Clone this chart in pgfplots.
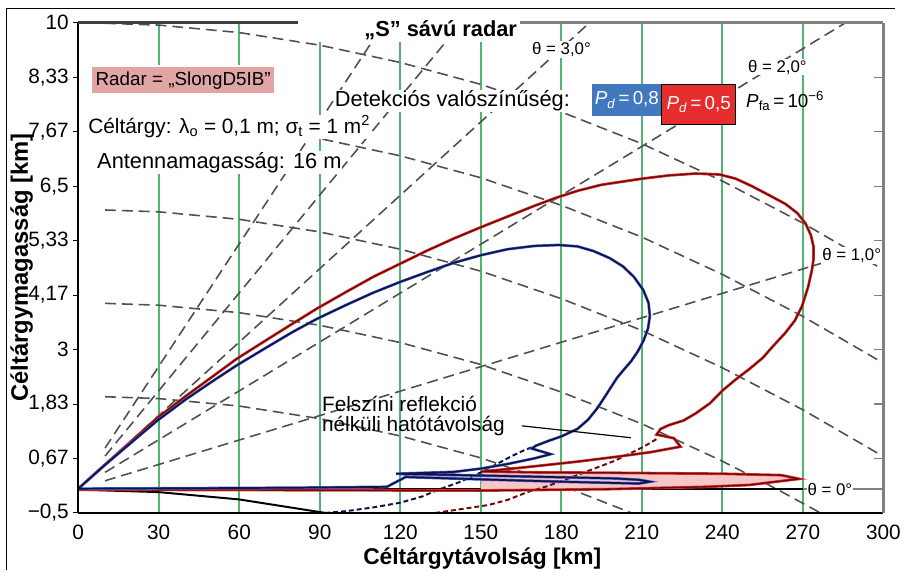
\documentclass[border=0pt]{standalone}
\usepackage{fontspec}
\setmainfont{Liberation Sans}
\usepackage{pgfplots}
\usepackage{pgfplotstable}
\pgfplotsset{compat=1.18}

\definecolor{grgreen}{RGB}{80,180,115}
\definecolor{dashgray}{RGB}{80,80,80}
\definecolor{navyline}{RGB}{15,20,70}
\definecolor{navyhalo}{RGB}{80,100,210}
\definecolor{redline}{RGB}{110,10,10}
\definecolor{redhalo}{RGB}{225,50,50}
\definecolor{boxpink}{RGB}{225,165,165}
\definecolor{boxblue}{RGB}{65,120,190}
\definecolor{boxred}{RGB}{230,45,45}
\definecolor{lobefill}{RGB}{170,130,200}
\newcommand\fs[1]{\fontsize{#1bp}{#1bp}\selectfont}

% Pd = 0,8 lobe (km, km)
\pgfplotstableread{
d h
0 0.02
10 0.53
20 1.02
29.5 1.48
40 1.93
50 2.32
59 2.66
70 3.04
80 3.38
89 3.66
100 3.96
110 4.22
120 4.45
130 4.66
140 4.86
150 5.02
160 5.15
170 5.22
179 5.24
186 5.21
192 5.11
198 4.96
203 4.78
207 4.56
210.5 4.28
212.5 4.00
213 3.72
212.3 3.45
210.7 3.20
208.5 2.96
206 2.75
203 2.55
200.7 2.39
197 2.06
193.5 1.75
190 1.50
186 1.30
180 1.14
175 1.04
170.5 0.94
169 0.88
176 0.76
170 0.67
160 0.55
150 0.45
140 0.38
118.5 0.34
160 0.29
200 0.24
209 0.21
213 0.17
209 0.13
180 0.17
150 0.22
122 0.27
115 0.06
80 0.04
40 0.03
0 0.02
}\navylobe

% Pd = 0,5 lobe
\pgfplotstableread{
d h
0 0.02
10 0.54
20 1.05
29.5 1.54
40 2.00
50 2.42
59 2.80
70 3.20
80 3.56
89 3.88
100 4.24
110 4.56
120 4.84
130 5.12
140 5.38
150 5.62
160 5.85
170 6.08
178 6.25
186 6.40
195 6.53
210 6.66
220 6.73
230 6.77
239 6.75
245 6.66
251 6.50
257 6.32
263.5 6.12
268 5.92
271 5.70
273 5.45
274 5.20
274 4.95
273.4 4.71
272 4.35
269.7 3.93
267 3.62
263.5 3.36
259 3.08
255 2.82
250 2.58
245 2.36
240 2.12
235.4 1.85
230 1.63
225.5 1.48
220 1.38
217 1.30
215.5 1.18
222 1.10
224.4 0.92
213 0.80
200 0.70
186 0.60
170 0.50
160 0.44
150.5 0.39
170 0.37
200 0.36
240 0.34
262 0.31
268.6 0.23
250 0.10
234 0.06
197 0.01
150 -0.02
0 0.00
}\redlobe

\begin{document}
\begin{tikzpicture}
\begin{scope}[x=1bp,y=1bp]
\useasboundingbox (0,0) rectangle (904,576);
\draw[line width=1bp] (7,0) -- (7,567) -- (904,567);
\end{scope}

\begin{axis}[
  at={(79bp,58bp)}, anchor=south west,
  scale only axis, width=813bp, height=495bp,
  xmin=0, xmax=300, ymin=-0.5, ymax=10,
  axis line style={draw=none},
  clip mode=individual,
  xtick={0,30,...,300},
  xticklabels={0,30,60,90,120,150,180,210,240,270,300},
  ytick={-0.5,0.6667,1.8333,3,4.1667,5.3333,6.5,7.6667,8.8333,10},
  yticklabels={{−0,5},{0,67},{1,83},3,{4,17},{5,33},{6,5},{7,67},{8,33},10},
  xmajorgrids, grid style={grgreen, line width=2bp},
  xtick style={draw=none},
  ytick style={black, line width=1bp},
  major tick length=5bp, tick align=outside,
  ytick pos=left, xtick pos=bottom,
  ticklabel style={font=\fs{21}},
  xticklabel style={yshift=-4bp},
  yticklabel style={xshift=-1bp},
]
% constant height curves (H = 2 ... 10 km)
\addplot[dashgray, line width=1.6bp, dash pattern=on 11bp off 6bp] coordinates {
 (10,9.99) (30,9.95) (60,9.79) (90,9.52) (120,9.15) (150,8.68) (180,8.09) (210,7.41) (240,6.61) (270,5.71) (300,4.71)};
\addplot[dashgray, line width=1.6bp, dash pattern=on 11bp off 6bp] coordinates {
 (10,7.99) (30,7.95) (60,7.79) (90,7.52) (120,7.15) (150,6.68) (180,6.09) (210,5.41) (240,4.61) (270,3.71) (300,2.71)};
\addplot[dashgray, line width=1.6bp, dash pattern=on 11bp off 6bp] coordinates {
 (10,5.99) (30,5.95) (60,5.79) (90,5.52) (120,5.15) (150,4.68) (180,4.09) (210,3.41) (240,2.61) (270,1.71) (300,0.71)};
\addplot[dashgray, line width=1.6bp, dash pattern=on 11bp off 6bp] coordinates {
 (10,3.99) (30,3.95) (60,3.79) (90,3.52) (120,3.15) (150,2.68) (180,2.09) (210,1.41) (240,0.61) (260,0.02) (276.6,-0.5)};
\addplot[dashgray, line width=1.6bp, dash pattern=on 11bp off 6bp] coordinates {
 (10,1.99) (30,1.95) (60,1.79) (90,1.52) (120,1.15) (150,0.68) (180,0.09) (206.2,-0.5)};
% elevation rays 1..5 deg
\addplot[dashgray, line width=1.6bp, dash pattern=on 11bp off 6bp] coordinates {(10,0.19) (277,4.85)};
\addplot[dashgray, line width=1.6bp, dash pattern=on 11bp off 6bp] coordinates {(10,0.37) (285.9,10)};
\addplot[dashgray, line width=1.6bp, dash pattern=on 11bp off 6bp] coordinates {(10,0.54) (190.5,10)};
\addplot[dashgray, line width=1.6bp, dash pattern=on 11bp off 6bp] coordinates {(10,0.72) (142.8,10)};
\addplot[dashgray, line width=1.6bp, dash pattern=on 11bp off 6bp] coordinates {(10,0.89) (114.1,10)};

% theta = 0 line and earth surface
\addplot[black, line width=2.5bp] coordinates {(0,0.016) (270,0.016)};
\addplot[gray, line width=2.5bp] coordinates {(270,0.016) (300,0.016)};
\addplot[black, line width=2bp] coordinates {(0,0) (30,-0.053) (60,-0.21) (92.2,-0.5)};

% lobe fills
\addplot[fill=lobefill, fill opacity=0.5, draw=none] coordinates {
 (118.5,0.34) (160,0.29) (200,0.24) (209,0.21) (213,0.17) (209,0.13) (180,0.17) (150,0.22) (122,0.27)} -- cycle;
\addplot[fill=redhalo!28, draw=none] coordinates {
 (150.5,0.39) (170,0.37) (200,0.36) (240,0.34) (262,0.31) (268.6,0.23) (250,0.10) (234,0.06) (197,0.01) (150,-0.02)} -- cycle;
\addplot[fill=lobefill, fill opacity=0.6, draw=none] coordinates {
 (10,0.0) (110,0.0) (110,0.06) (10,0.06)} -- cycle;

% free-space (no reflection) parts
\addplot[redline, line width=2bp, dash pattern=on 5bp off 3bp] coordinates {
 (133,-0.5) (140,-0.44) (152.8,-0.33) (160,-0.22) (167.5,-0.05) (174,0.06) (180,0.18) (190,0.40) (200,0.62) (210.7,0.92) (216,1.1)};
\addplot[navyline, line width=2bp, dash pattern=on 5bp off 3bp] coordinates {
 (92,-0.5) (100,-0.46) (110,-0.38) (120,-0.28) (128,-0.15) (134.3,0.0) (142,0.16) (150.5,0.38) (156,0.55) (161.6,0.72) (166,0.84) (170,0.93)};

% coverage lobes
\addplot[redhalo, line width=2.8bp] table[x=d,y=h] {\redlobe};
\addplot[redline, line width=1.4bp] table[x=d,y=h] {\redlobe};
\addplot[navyhalo, line width=2.8bp] table[x=d,y=h] {\navylobe};
\addplot[navyline, line width=1.7bp] table[x=d,y=h] {\navylobe};

% frame
\draw[black, line width=2bp] (axis cs:0,-0.5) -- (axis cs:0,10);
\draw[black, line width=2bp] (axis cs:0,-0.5) -- (axis cs:300,-0.5);
\draw[gray, line width=3bp] (axis cs:300,-0.5) -- (axis cs:300,10);
\draw[darkgray, line width=3bp] (axis cs:0,10) -- (axis cs:82,10);
\draw[gray, line width=3bp] (axis cs:164.5,10) -- (axis cs:300,10);
\pgfplotsinvokeforeach{0.6667,1.8333,3,4.1667,5.3333,6.5,7.6667,8.8333}{
  \draw[gray, line width=1.2bp] (axis cs:300,#1) -- (axis cs:296.5,#1);
}
\end{axis}

% annotations (picture coordinates, bp)
\begin{scope}[x=1bp,y=1bp]
\fill[white] (302,534) rectangle (524,560);
\node[font=\bfseries\fs{22}] at (445,546) {„S” sávú radar};
\fill[white] (82,402) rectangle (300,510);
\node[fill=boxpink, inner sep=2bp, minimum width=184bp, minimum height=26bp, font=\fs{19}] at (185,495) {Radar = „SlongD5IB”};
\node[anchor=west, fill=white, inner sep=1bp, font=\fs{21}] at (88,448) {Céltárgy: λ\textsubscript{o} = 0,1 m; σ\textsubscript{t} = 1 m\textsuperscript{2}};
\node[anchor=west, fill=white, inner sep=1bp, font=\fs{22}] at (97,412) {Antennamagasság: 16 m};
\node[anchor=west, fill=white, inner sep=1bp, font=\fs{22}] at (337,474) {Detekciós valószínűség:};
\node[fill=boxblue, text=white, minimum width=70bp, minimum height=32bp, inner sep=0pt, font=\fs{19}] at (633,475) {\textit{P}\textsubscript{\textit{d}}\,=\,0,8};
\node[fill=boxred, draw=black, line width=0.8bp, text=white, minimum width=75bp, minimum height=41bp, inner sep=0pt, font=\fs{19}] at (705.5,470.5) {\textit{P}\textsubscript{\textit{d}}\,=\,0,5};
\node[anchor=west, font=\fs{19}] at (750,474) {\textit{P}\textsubscript{fa}\,=\,10\textsuperscript{−6}};
\node[fill=white, inner sep=1bp, font=\fs{17}] at (567,526) {θ = 3,0°};
\node[fill=white, inner sep=1bp, font=\fs{17}] at (785,508) {θ = 2,0°};
\node[fill=white, inner sep=1bp, font=\fs{17}] at (860,318) {θ = 1,0°};
\node[fill=white, inner sep=1bp, font=\fs{17}] at (838,82) {θ = 0°};
\node[anchor=west, font=\fs{21}, inner sep=0pt] at (325,168) {Felszíni reflekció};
\node[anchor=west, font=\fs{21}, inner sep=0pt] at (325,146) {nélküli hatótávolság};
\draw[black, line width=1.2bp] (527,146) -- (637,134);
\node[rotate=90, font=\bfseries\fs{24}] at (22,306) {Céltárgymagasság [km]};
\node[anchor=base, font=\bfseries\fs{23}] at (487,6) {Céltárgytávolság [km]};
\end{scope}
\end{tikzpicture}
\end{document}
